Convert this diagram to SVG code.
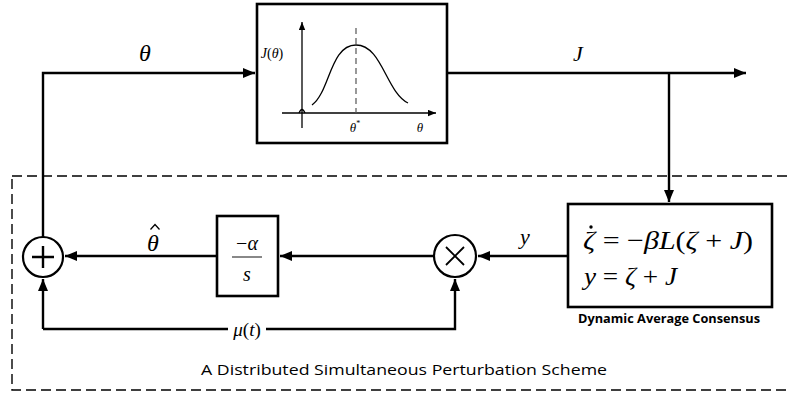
<svg xmlns="http://www.w3.org/2000/svg" width="787" height="395" viewBox="0 0 787 395">
  <style>
    .ln { fill: none; stroke: #000; stroke-width: 2.4; }
    .box { fill: #fff; stroke: #000; stroke-width: 2.6; }
    .thin { fill: none; stroke: #000; stroke-width: 1.3; }
    .math { font-family: "Liberation Serif", "DejaVu Serif", serif; font-style: italic; fill: #000; }
    .up { font-family: "Liberation Serif", "DejaVu Serif", serif; fill: #000; }
    .cap { font-family: "Open Sans", "Liberation Sans", sans-serif; fill: #000; }
  </style>
  <defs>
    <marker id="arr" viewBox="0 0 12 10" refX="12" refY="5" markerWidth="12" markerHeight="10" markerUnits="userSpaceOnUse" orient="auto">
      <path d="M0,0 L12,5 L0,10 Z" fill="#000"/>
    </marker>
    <marker id="arrS" viewBox="0 0 10 8" refX="10" refY="4" markerWidth="8" markerHeight="7" markerUnits="userSpaceOnUse" orient="auto">
      <path d="M0,0 L10,4 L0,8 Z" fill="#000"/>
    </marker>
  </defs>

  <!-- scheme boundary -->
  <rect x="12" y="176" width="790" height="214" fill="none" stroke="#000" stroke-width="1.4" stroke-dasharray="10 5"/>
  <text class="cap" x="404" y="375" font-size="15" text-anchor="middle" textLength="406" lengthAdjust="spacingAndGlyphs">A Distributed Simultaneous Perturbation Scheme</text>

  <!-- connectors -->
  <g id="connectors">
    <path class="ln" d="M43,237 L43,73 L255,73" marker-end="url(#arr)"/>
    <path class="ln" d="M447,73 L746,73" marker-end="url(#arr)"/>
    <path class="ln" d="M669,73 L669,202" marker-end="url(#arr)"/>
    <path class="ln" d="M568,256 L478,256" marker-end="url(#arr)"/>
    <path class="ln" d="M434,256 L280,256" marker-end="url(#arr)"/>
    <path class="ln" d="M217,256 L65,256" marker-end="url(#arr)"/>
    <path class="ln" d="M43,329 L455,329 L455,279" marker-end="url(#arr)"/>
    <path class="ln" d="M43,329 L43,279" marker-end="url(#arr)"/>
    <text class="math" x="145" y="61" font-size="24" text-anchor="middle">θ</text>
    <text class="math" x="578" y="61" font-size="22" text-anchor="middle">J</text>
    <text class="math" x="525" y="244" font-size="22" text-anchor="middle">y</text>
    <!-- theta-hat: glyph plus circumflex stroke -->
    <text class="math" x="153" y="251" font-size="24" text-anchor="middle">θ</text>
    <path d="M150.5,229.5 L155,224.5 L159.5,229.5" fill="none" stroke="#000" stroke-width="1.3"/>
    <rect x="228" y="319" width="38" height="20" fill="#fff"/>
    <text class="math" x="247" y="336" font-size="19" text-anchor="middle">μ<tspan font-style="normal">(</tspan>t<tspan font-style="normal">)</tspan></text>
  </g>

  <!-- plant: cost function J(theta) -->
  <g id="plant">
    <rect class="box" x="257" y="4" width="190" height="139"/>
    <path class="thin" d="M302,128 L302,22" marker-end="url(#arrS)"/>
    <path class="thin" d="M282,113 L436,113" marker-end="url(#arrS)"/>
    <path class="thin" d="M299,113 Q302,106 305,113"/>
    <path d="M356,28 L356,113" fill="none" stroke="#555" stroke-width="1.2" stroke-dasharray="6 4"/>
    <path class="thin" d="M312,105 C330,92 330,45 356,45 C382,45 386,92 408,103" stroke-width="1.6"/>
    <text class="math" x="272" y="58" font-size="14" text-anchor="middle">J<tspan font-style="normal">(</tspan>θ<tspan font-style="normal">)</tspan></text>
    <text class="math" x="355" y="132" font-size="13" text-anchor="middle">θ<tspan font-size="8" dy="-6" font-style="normal">*</tspan></text>
    <text class="math" x="420" y="132" font-size="13" text-anchor="middle">θ</text>
  </g>

  <!-- summing junction -->
  <g id="adder">
    <circle cx="43" cy="257" r="20" fill="#fff" stroke="#000" stroke-width="2.2"/>
    <path class="ln" d="M32,257 L54,257 M43,246 L43,268" stroke-width="2"/>
  </g>

  <!-- integrator gain -->
  <g id="integrator">
    <rect class="box" x="217" y="216" width="61" height="80"/>
    <text class="up" x="247" y="250" font-size="20" text-anchor="middle">−<tspan font-style="italic">α</tspan></text>
    <path d="M232,257 L262,257" stroke="#555" stroke-width="1.4"/>
    <text class="math" x="247" y="281" font-size="20" text-anchor="middle">s</text>
  </g>

  <!-- multiplier -->
  <g id="multiplier">
    <circle cx="455" cy="256" r="21" fill="#fff" stroke="#000" stroke-width="2.2"/>
    <path d="M446,247 L464,265 M464,247 L446,265" stroke="#000" stroke-width="1.8"/>
  </g>

  <!-- consensus filter -->
  <g id="consensus">
    <rect class="box" x="568" y="204" width="204" height="103"/>
    <text class="math" x="583" y="249" font-size="26" textLength="170" lengthAdjust="spacingAndGlyphs">ζ<tspan font-style="normal"> = −</tspan>βL<tspan font-style="normal">(</tspan>ζ<tspan font-style="normal"> + </tspan>J<tspan font-style="normal">)</tspan></text>
    <circle cx="591" cy="227" r="1.7" fill="#000"/>
    <text class="math" x="584" y="285" font-size="26" textLength="93" lengthAdjust="spacingAndGlyphs">y<tspan font-style="normal"> = </tspan>ζ<tspan font-style="normal"> + </tspan>J</text>
    <text class="cap" x="669" y="323" font-size="11.5" font-weight="bold" text-anchor="middle" textLength="182" lengthAdjust="spacingAndGlyphs">Dynamic Average Consensus</text>
  </g>
</svg>
